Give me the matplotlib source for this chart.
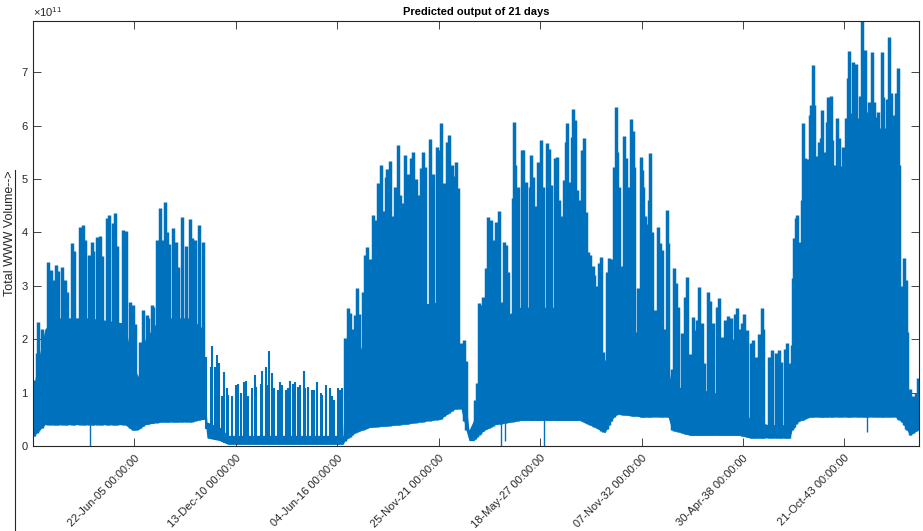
import numpy as np
import matplotlib
matplotlib.use("Agg")
import matplotlib.pyplot as plt
from matplotlib.lines import Line2D

plt.rcParams["font.family"] = ["Liberation Sans", "DejaVu Sans"]
plt.rcParams["mathtext.fontset"] = "custom"
plt.rcParams["mathtext.rm"] = "Liberation Sans"

BLUE = "#0072BD"
DARK = "#262626"

# ---------------------------------------------------------------
# data (sample index, values in units of 1e11)
# ---------------------------------------------------------------

n_samples = 17472

# solid band of the signal: lower envelope and top of the dense part
body_x = [0, 79, 237, 532, 1124, 1814, 1952, 2071, 2209, 2504, 3096, 3352,
          3392, 3431, 3688, 3845, 5265, 6113, 6153, 6350, 6646, 7237, 8026,
          8322, 8440, 8539, 8598, 8697, 8775, 8913, 9111, 9604, 10787, 11083,
          11280, 11418, 11516, 11970, 12522, 12601, 12956, 13942, 14139,
          14494, 14928, 14967, 15066, 15322, 16309, 17000, 17137, 17294,
          17452, 17472]
body_low = [0.17, 0.25, 0.4, 0.4, 0.4, 0.4, 0.3, 0.3, 0.4, 0.45, 0.45, 0.5,
            0.5, 0.15, 0.1, 0.03, 0.03, 0.03, 0.1, 0.25, 0.35, 0.4, 0.5,
            0.7, 0.7, 0.3, 0.1, 0.1, 0.2, 0.3, 0.4, 0.48, 0.48, 0.35,
            0.25, 0.5, 0.6, 0.55, 0.55, 0.3, 0.2, 0.2, 0.15,
            0.15, 0.15, 0.3, 0.45, 0.55, 0.55, 0.55, 0.45, 0.2,
            0.3, 0.3]
body_high = [1.0, 1.5, 2.2, 2.4, 2.4, 2.3, 1.6, 1.3, 2.0, 2.4, 2.4, 2.2,
             1.0, 0.45, 0.35, 0.2, 0.2, 0.2, 1.2, 1.6, 2.2, 2.6, 2.7,
             2.5, 1.5, 0.8, 0.3, 0.5, 0.9, 1.8, 2.3, 2.6, 2.6, 2.0,
             1.6, 2.0, 2.3, 2.1, 1.5, 1.1, 1.1, 0.9, 0.5,
             0.4, 0.4, 1.5, 2.5, 2.9, 2.9, 2.6, 1.3, 0.8,
             0.8, 0.8]

# daily peaks
spike_x = [
    # week 1
    10, 73, 105, 172, 302, 349, 414, 454, 499, 572,
    631, 676, 775, 814, 927, 992, 1026, 1098, 1158, 1189,
    1268, 1321, 1355, 1459, 1505, 1572, 1617, 1662, 1781, 1834,
    1913, 1966, 2012, 2110, 2175, 2242, 2274, 2341, 2360, 2439,
    2471, 2504, 2544, 2603, 2636, 2688, 2767, 2820, 2865, 2938,
    3017, 3096, 3135, 3195, 3274, 3352,
    # low period
    3412, 3510, 3530, 3589, 3628, 3668, 3727, 3767, 3826, 3845,
    3924, 4003, 4043, 4102, 4161, 4200, 4240, 4319, 4378, 4398,
    4496, 4516, 4595, 4634, 4654, 4713, 4753, 4831, 4871, 4910,
    4989, 5029, 5068, 5127, 5167, 5226, 5265, 5344, 5364, 5423,
    5502, 5541, 5600, 5679, 5699, 5778, 5857, 5896, 5936, 6015,
    6054, 6093,
    # week 3
    6153, 6212, 6251, 6300, 6350, 6389, 6429, 6508, 6547, 6586, 6646,
    6705, 6744, 6803, 6863, 6902, 6961, 6981, 7040, 7079, 7139,
    7198, 7237, 7296, 7336, 7375, 7395, 7454, 7494, 7553, 7592, 7651,
    7691, 7730, 7829, 7888, 7967, 8006, 8046, 8105, 8164, 8204,
    8263, 8322, 8342, 8381, 8440, 8499, 8539,
    # week 4
    8716, 8756, 8795, 8815, 8874, 8933, 8973, 8992, 9032, 9071,
    9130, 9190, 9229, 9288, 9328, 9367, 9406, 9466, 9485, 9505,
    9564, 9643, 9663, 9722, 9801, 9821, 9860, 9910, 9959, 9978, 10018,
    10057, 10136, 10176, 10215, 10294, 10333, 10373, 10420, 10471, 10511,
    10531, 10570, 10629, 10649, 10688, 10728, 10777, 10826, 10866, 10905,
    10945, 10984, 11043, 11063, 11122, 11162, 11201, 11240, 11319, 11359,
    11398,
    # week 5
    11457, 11497, 11516, 11556, 11615, 11654, 11694, 11733, 11793, 11832,
    11852, 11931, 11990, 12010, 12029, 12069, 12108, 12147, 12167, 12207,
    12266, 12325, 12364, 12404, 12443, 12502, 12522, 12601, 12641, 12680,
    12719, 12798, 12857, 12897, 12956, 13015, 13035, 13094, 13134, 13193,
    13232, 13311, 13350, 13410, 13488, 13528, 13587, 13646, 13705, 13765,
    13804, 13843, 13883, 13932, 13981, 14021, 14080, 14159, 14198, 14258,
    14317, 14376, 14396, 14514, 14573, 14652, 14711,
    # week 6
    14751, 14829, 14869, 14908, 14967, 14987, 15007, 15046, 15066, 15106,
    15165, 15184, 15224, 15263, 15283, 15322, 15342, 15382, 15401, 15460,
    15500, 15539, 15559, 15579, 15618, 15658, 15677, 15737, 15756, 15796,
    15855, 15894, 15934, 15973, 16032, 16072, 16092, 16131, 16171, 16230,
    16269, 16309, 16348, 16388, 16407, 16447, 16486, 16545, 16584, 16624,
    16663, 16703, 16742, 16762, 16801, 16841, 16880, 16920, 16959, 17018,
    17058, 17077, 17137, 17176, 17216, 17235, 17294, 17354, 17413, 17452,
]
spike_peak = [
    # week 1
    1.24, 1.74, 2.32, 2.2, 3.45, 3.3, 3.1, 3.39, 3.28, 3.35,
    3.1, 2.88, 3.8, 3.65, 4.1, 4.13, 3.86, 3.58, 3.82, 3.66,
    3.92, 3.94, 3.55, 4.27, 4.33, 4.17, 4.36, 3.75, 4.05, 4.02,
    2.7, 2.65, 2.28, 1.95, 2.55, 2.45, 2.4, 2.65, 2.6, 3.86,
    3.78, 4.45, 3.86, 4.57, 4.0, 3.78, 4.08, 3.82, 3.35, 4.29,
    3.75, 4.25, 3.9, 3.86, 4.14, 3.82,
    # low period
    1.67, 1.48, 1.87, 1.48, 1.7, 1.55, 0.93, 1.39, 1.08, 0.96,
    0.93, 1.14, 1.16, 1.0, 1.2, 1.22, 0.93, 1.08, 1.33, 1.1,
    1.16, 1.4, 1.48, 1.14, 1.78, 1.36, 1.08, 1.05, 1.2, 1.14,
    1.05, 1.08, 1.22, 1.16, 1.2, 1.1, 1.14, 1.4, 1.08, 1.1,
    1.05, 1.05, 1.2, 1.0, 0.96, 1.14, 1.08, 0.93, 0.86, 1.08,
    1.05, 1.08,
    # week 3
    2.02, 2.58, 2.5, 2.2, 2.45, 2.96, 2.47, 2.88, 3.58, 3.73, 3.5,
    4.33, 4.24, 4.93, 5.26, 4.4, 5.04, 5.18, 5.34, 4.3, 4.85,
    5.64, 4.7, 4.55, 5.45, 5.04, 5.1, 5.39, 5.51, 5.0, 4.7, 5.2,
    5.51, 5.22, 5.75, 5.1, 5.6, 5.55, 6.05, 4.93, 5.7, 5.82,
    5.26, 5.06, 5.32, 4.83, 1.93, 1.98, 1.6,
    # week 4
    0.86, 1.18, 2.68, 2.64, 2.79, 3.33, 4.29, 3.95, 4.23, 3.85,
    4.2, 4.4, 2.7, 3.82, 3.76, 3.25, 2.25, 4.64, 6.07, 5.26,
    4.85, 5.54, 5.55, 4.95, 4.85, 5.45, 5.04, 4.5, 5.32, 5.3, 5.74,
    4.85, 5.68, 5.57, 4.88, 5.39, 5.42, 4.6, 4.3, 4.99, 5.69,
    6.05, 4.95, 5.79, 6.31, 6.1, 4.8, 4.6, 5.55, 5.77, 4.39,
    3.63, 3.57, 3.38, 3.2, 3.0, 3.42, 3.54, 1.76, 3.25, 3.52,
    3.5,
    # week 5
    5.23, 6.35, 5.5, 4.85, 3.38, 5.8, 5.39, 4.85, 6.12, 5.9,
    5.23, 2.96, 5.41, 5.16, 4.85, 4.3, 4.16, 4.6, 5.49, 4.0,
    2.55, 4.1, 3.8, 3.68, 2.2, 4.42, 3.8, 1.44, 3.33, 3.06,
    2.6, 2.12, 2.8, 3.16, 1.73, 2.42, 2.17, 2.36, 2.98, 2.3,
    1.56, 2.89, 2.72, 2.3, 2.6, 2.78, 2.05, 2.36, 2.44, 2.4,
    2.0, 2.48, 2.58, 2.2, 2.3, 2.47, 2.17, 1.92, 1.98, 1.67,
    2.1, 2.58, 2.2, 1.67, 1.8, 1.74, 1.8,
    # week 6
    1.58, 1.82, 1.93, 1.55, 1.9, 3.15, 3.9, 4.27, 4.33, 3.83,
    4.6, 6.05, 5.4, 5.37, 2.9, 6.2, 6.39, 7.13, 6.39, 5.43,
    5.7, 5.76, 6.29, 5.08, 5.5, 6.07, 6.54, 6.56, 5.73, 5.26,
    6.14, 5.76, 5.24, 5.6, 6.14, 6.9, 7.4, 6.23, 7.19, 7.16,
    6.14, 6.56, 7.96, 6.5, 7.42, 6.25, 6.44, 7.38, 6.44, 6.17,
    6.25, 5.95, 7.38, 6.54, 5.95, 6.5, 7.66, 6.62, 6.2, 6.61,
    7.08, 5.26, 3.0, 3.52, 3.1, 2.13, 1.07, 0.93, 1.0, 1.27,
]

# downward outliers
dip_x = [1124, 9229, 9308, 10077, 16447]
dip_low = [0.0, 0.0, 0.1, 0.0, 0.26]

# quiet stretch where the daily peaks are thin
quiet_start, quiet_end = 3400, 6100

tick_pos = [2000, 4000, 6000, 8000, 10000, 12000, 14000, 16000]
tick_labels = [
    "22-Jun-05 00:00:00",
    "13-Dec-10 00:00:00",
    "04-Jun-16 00:00:00",
    "25-Nov-21 00:00:00",
    "18-May-27 00:00:00",
    "07-Nov-32 00:00:00",
    "30-Apr-38 00:00:00",
    "21-Oct-43 00:00:00",
]

# ---------------------------------------------------------------
# figure
# ---------------------------------------------------------------

fig = plt.figure(figsize=(9.23, 5.31), dpi=100)
ax = fig.add_axes([33 / 923, 85 / 531, 886 / 923, 425 / 531])

ax.fill_between(body_x, body_low, body_high, color=BLUE, linewidth=0)

sx = np.asarray(spike_x)
spike_base = np.interp(sx, body_x, body_low)
quiet = (sx > quiet_start) & (sx < quiet_end)
widths = np.where(quiet, 1.5, 2.5)
ax.vlines(sx, spike_base, spike_peak, color=BLUE, linewidth=widths)

dip_top = np.interp(dip_x, body_x, body_low) + 0.1
ax.vlines(dip_x, dip_low, dip_top, color=BLUE, linewidth=1.0)

ax.set_xlim(0, n_samples)
ax.set_ylim(0, max(spike_peak))

ax.set_xticks(tick_pos)
ax.set_xticklabels(tick_labels, rotation=45, ha="right", va="top",
                   rotation_mode="anchor", fontsize=8, color=DARK)
ax.set_yticks(range(0, 8))
ax.set_yticklabels([str(v) for v in range(0, 8)], fontsize=8, color=DARK)

ax.tick_params(direction="in", length=6, width=0.6, color=DARK,
               top=True, right=True, pad=4)
ax.tick_params(axis="x", pad=5)

for sp in ax.spines.values():
    sp.set_color(DARK)
    sp.set_linewidth(0.8)

ax.set_title("Predicted output of 21 days", fontsize=8, fontweight="bold",
             color="black", pad=4)
ax.text(0.0, 1.004, r"$\times$10$^{11}$", transform=ax.transAxes,
        fontsize=8, color=DARK, ha="left", va="bottom")

fig.text(10 / 923, 1 - 233 / 531, "Total WWW Volume-->", rotation=90,
         fontsize=9, color=DARK, ha="center", va="center")
fig.add_artist(Line2D([15.5 / 923, 15.5 / 923], [0, 1 - 170 / 531],
                      color=DARK, linewidth=0.8))

fig.savefig("out.png", dpi=100)
